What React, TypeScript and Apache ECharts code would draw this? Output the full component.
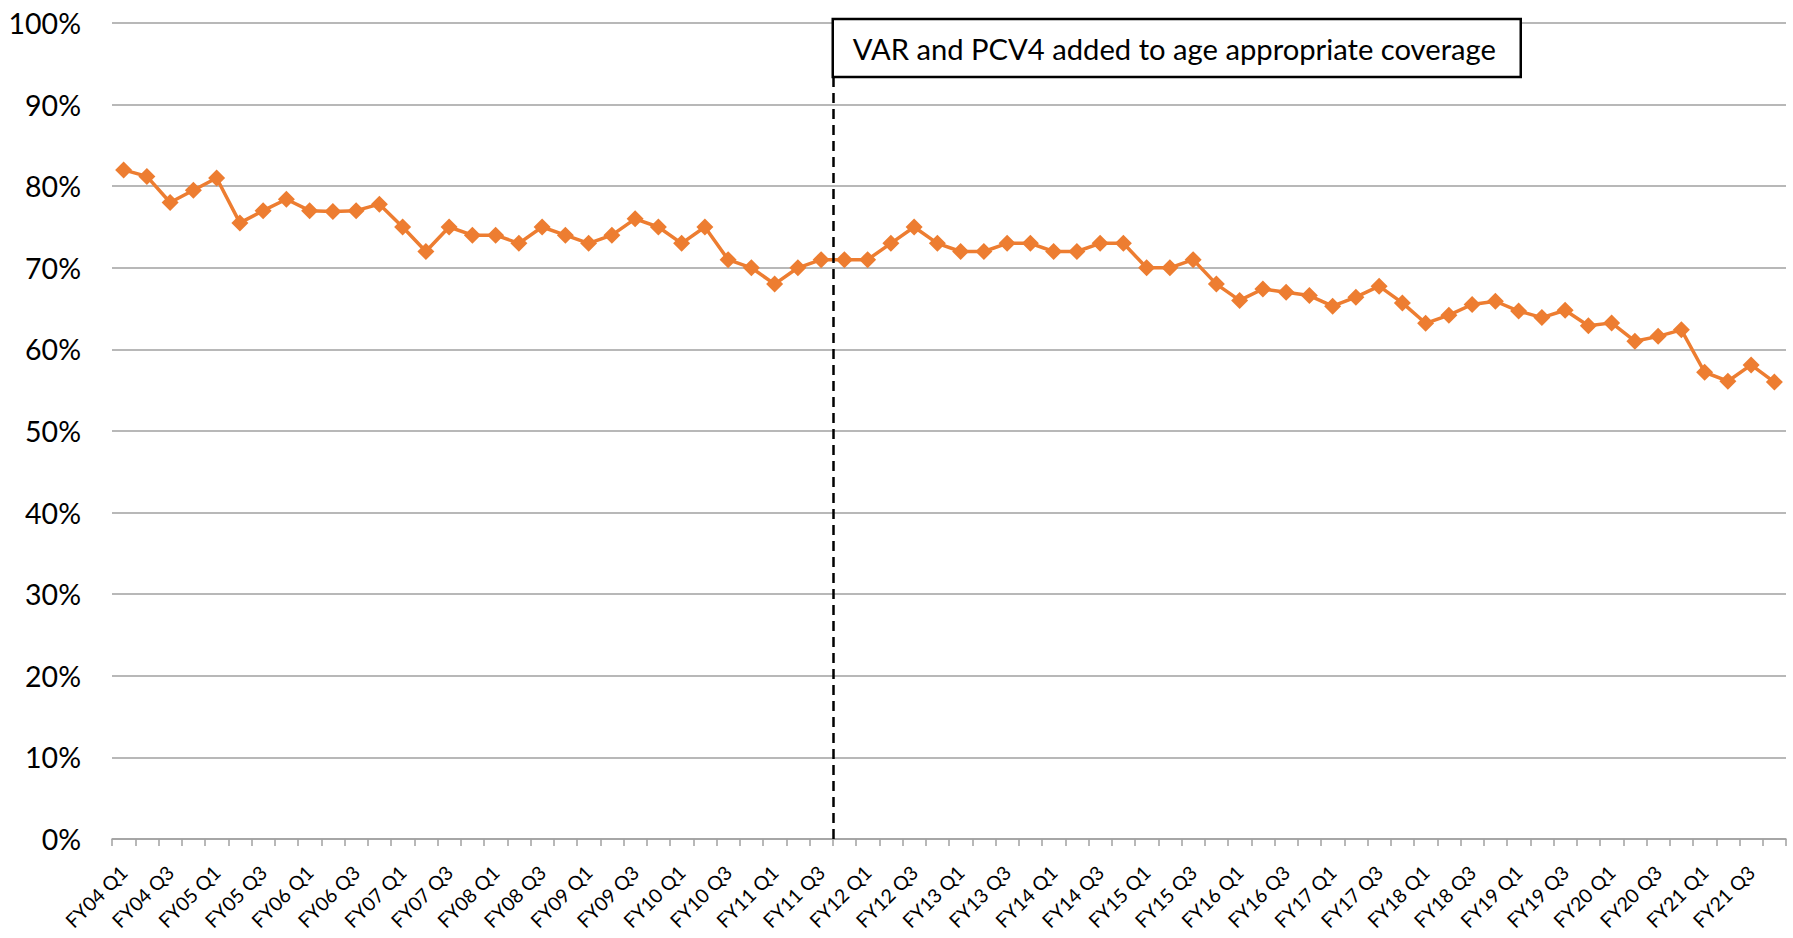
import React, { useEffect, useRef } from "react";
import * as echarts from "echarts";

const years = ["04","05","06","07","08","09","10","11","12","13","14","15","16","17","18","19","20","21"];
const quarters = ["Q1","Q2","Q3","Q4"];
const categories: string[] = [];
years.forEach((y) => quarters.forEach((q) => categories.push(`FY${y} ${q}`)));

const coverage = [
  82, 81.2, 78, 79.5, 81, 75.5, 77, 78.4, 77, 76.9, 77, 77.8, 75, 72, 75, 74, 74, 73, 75, 74, 73,
  74, 76, 75, 73, 75, 71, 70, 68, 70, 71, 71, 71, 73, 75, 73, 72, 72, 73, 73, 72, 72, 73, 73, 70, 70,
  71, 68, 66, 67.4, 67, 66.6, 65.3, 66.4, 67.75, 65.7, 63.2, 64.2, 65.5, 65.9, 64.7, 63.9, 64.8, 62.9, 63.25, 61, 61.6, 62.4, 57.2, 56.1, 58.1, 56,
];

const annotationText = "VAR and PCV4 added to age appropriate coverage";
const annotationBoundary = 31; // boundary between FY11 Q3 and FY11 Q4 (category boundary index)
const dashedTop = 93.4;

export default function App() {
  const ref = useRef<HTMLDivElement>(null);
  useEffect(() => {
    if (!ref.current) return;
    const chart = echarts.init(ref.current, undefined, { renderer: "svg" });
    const gray = "#a0a0a0";
    chart.setOption({
      animation: false,
      backgroundColor: "#ffffff",
      grid: { left: 112, right: 7, top: 23, bottom: 99, containLabel: false },
      xAxis: [
        {
          type: "category",
          data: categories,
          boundaryGap: true,
          axisLine: { show: true, lineStyle: { color: gray, width: 1.5 } },
          axisTick: { show: true, interval: 0, length: 7, lineStyle: { color: gray, width: 1.5 } },
          axisLabel: {
            interval: 1,
            rotate: 45,
            margin: 30,
            fontFamily: "Lato",
            fontSize: 19.5,
            color: "#000",
          },
          splitLine: { show: false },
        },
        {
          type: "value",
          min: 0,
          max: categories.length,
          show: false,
        },
      ],
      yAxis: {
        type: "value",
        min: 0,
        max: 100,
        interval: 10,
        axisLine: { show: false },
        axisTick: { show: false },
        axisLabel: {
          formatter: "{value}%",
          fontFamily: "Lato",
          fontSize: 28.5,
          color: "#000",
          margin: 31,
        },
        splitLine: { show: true, lineStyle: { color: gray, width: 1.5 } },
      },
      series: [
        {
          type: "line",
          data: coverage,
          xAxisIndex: 0,
          symbol: "diamond",
          symbolSize: 17,
          showAllSymbol: true,
          lineStyle: { color: "#ED7D31", width: 3.5 },
          itemStyle: { color: "#ED7D31" },
        },
        {
          type: "line",
          xAxisIndex: 1,
          data: [],
          markLine: {
            silent: true,
            symbol: "none",
            label: { show: false },
            lineStyle: { color: "#000", type: [10, 6], width: 2.5 },
            data: [[{ coord: [annotationBoundary, 0] }, { coord: [annotationBoundary, dashedTop] }]],
          },
        },
      ],
    });
    const left = chart.convertToPixel({ xAxisIndex: 1 }, annotationBoundary) as number;
    const top = 19;
    const height = 58;
    chart.setOption({
      graphic: [
        {
          type: "rect",
          shape: { x: left, y: top, width: 688, height },
          style: { fill: "#fff", stroke: "#000", lineWidth: 2.5 },
          z: 100,
        },
        {
          type: "text",
          x: left + 20,
          y: top + height / 2,
          style: {
            text: annotationText,
            fontFamily: "Lato",
            fontSize: 29.2,
            fill: "#000",
            verticalAlign: "middle",
            align: "left",
          },
          z: 101,
        },
      ],
    });
    return () => chart.dispose();
  }, []);
  return (
    <div
      ref={ref}
      style={{ position: "fixed", left: 0, top: 0, width: 1793, height: 938, background: "#fff" }}
    />
  );
}
